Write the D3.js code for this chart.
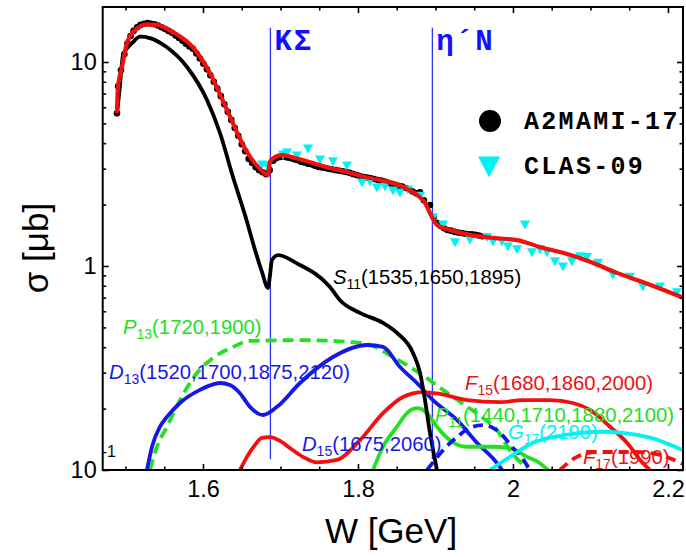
<!DOCTYPE html>
<html>
<head>
<meta charset="utf-8">
<script src="https://cdn.jsdelivr.net/npm/d3@7"></script>
<style>
body { margin: 0; background: #fff; }
text { font-family: "Liberation Sans", Arial, sans-serif; }
</style>
</head>
<body>
<svg id="chart" width="686" height="557"></svg>
<script>

// total fit (red) and S11 (black), [W GeV, sigma mub]
const totalFit = [[1.4890,5.62],[1.4903,7.54],[1.4955,9.45],[1.5019,12.4],[1.5097,14.0],[1.5277,15.3],[1.5406,15.2],
	[1.5613,14.0],[1.5871,11.8],[1.6090,8.84],[1.6310,5.82],[1.6568,3.62],[1.6710,3.06],[1.6839,2.79],[1.6865,3.24],
	[1.6929,3.42],[1.7019,3.50],[1.7187,3.38],[1.7419,3.20],[1.7639,3.02],[1.7858,2.89],[1.8090,2.73],[1.8284,2.64],
	[1.8581,2.44],[1.8761,2.23],[1.8865,2.04],[1.8929,1.82],[1.9019,1.59],[1.9187,1.50],[1.9445,1.42],[1.9768,1.37],
	[2.0052,1.34],[2.0348,1.24],[2.0645,1.16],[2.0994,1.05],[2.1342,0.925],[2.1768,0.81],[2.2194,0.70]]

const s11 = [[1.4890,5.50],[1.4929,7.71],[1.4968,10.8],[1.5097,12.5],[1.5187,13.3],[1.5316,13.1],[1.5535,11.8],
	[1.5794,9.45],[1.6052,6.51],[1.6219,4.49],[1.6387,2.73],[1.6542,1.78],[1.6671,1.20],[1.6761,0.935],[1.6839,0.78],
	[1.6865,0.904],[1.6890,1.07],[1.6968,1.13],[1.7213,1.03],[1.7639,0.789],[1.7768,0.68],[1.8026,0.589],[1.8323,0.526],
	[1.8503,0.47],[1.8710,0.375],[1.8800,0.30],[1.8865,0.22],[1.8929,0.152],[1.8994,0.112],[1.9019,0.1]]

// partial waves
const p13 = [[1.5316,0.1],[1.5406,0.130],[1.5535,0.163],[1.5703,0.220],[1.5923,0.299],[1.6129,0.354],[1.6387,0.401],
	[1.6606,0.429],[1.7252,0.433],[1.7897,0.424],[1.8116,0.415],[1.8452,0.358],[1.8671,0.320],[1.8890,0.282],
	[1.9097,0.247],[1.9355,0.211],[1.9613,0.180],[1.9794,0.157],[1.9961,0.125],[2.0181,0.102]]

const d13 = [[1.5277,0.1],[1.5342,0.130],[1.5445,0.163],[1.5535,0.182],[1.5703,0.213],[1.5961,0.247],[1.6219,0.267],
	[1.6348,0.261],[1.6477,0.238],[1.6606,0.204],[1.6774,0.186],[1.6955,0.204],[1.7252,0.267],[1.7677,0.358],
	[1.8116,0.410],[1.8323,0.401],[1.8542,0.320],[1.8761,0.267],[1.8968,0.220],[1.9277,0.176],[1.9535,0.136],
	[1.9794,0.108],[1.9858,0.1]]

const f15 = [[1.6477,0.1],[1.6568,0.116],[1.6671,0.1327],[1.6761,0.1437],[1.6865,0.145],[1.6994,0.139],[1.7123,0.128],
	[1.7290,0.116],[1.7471,0.109],[1.7729,0.112],[1.8026,0.140],[1.8323,0.190],[1.8581,0.228],[1.8839,0.241],
	[1.9058,0.236],[1.9406,0.220],[1.9832,0.215],[2.0129,0.220],[2.0477,0.220],[2.0774,0.213],[2.0994,0.197],
	[2.1252,0.163],[2.1471,0.136],[2.1677,0.108],[2.1768,0.1]]

const d15 = [[1.8890,0.1],[1.8994,0.112],[1.9097,0.125],[1.9277,0.145],[1.9445,0.161],[1.9613,0.166],[1.9742,0.161],
	[1.9871,0.147],[2.0000,0.128],[2.0090,0.1186],[2.0194,0.1035],[2.0219,0.1]]

const p11 = [[1.8194,0.1],[1.8323,0.130],[1.8503,0.163],[1.8632,0.190],[1.8761,0.201],[1.8890,0.190],[1.9019,0.163],
	[1.9187,0.140],[1.9406,0.130],[1.9703,0.130],[1.9961,0.128],[2.0181,0.116],[2.0348,0.108],[2.0452,0.1]]

const g17 = [[1.9703,0.1],[1.9961,0.116],[2.0258,0.136],[2.0697,0.149],[2.1123,0.154],[2.1419,0.152],[2.1768,0.144],
	[2.2194,0.125]]

const f17 = [[2.0606,0.1],[2.0826,0.116],[2.1084,0.1225],[2.1342,0.1225],[2.1600,0.1225],[2.1897,0.1186],[2.2194,0.107]]

// measured points
const a2mami17 = [[1.4890,5.6],[1.4905,7.6],[1.4942,9.1],[1.4985,10.9],[1.5025,12.3],[1.5065,13.4],[1.5105,14.2],
	[1.5150,14.8],[1.5195,15.2],[1.5240,15.4],[1.5285,15.5],[1.5330,15.4],[1.5375,15.3],[1.5420,15.1],[1.5465,14.8],
	[1.5510,14.5],[1.5555,14.2],[1.5600,13.9],[1.5645,13.5],[1.5690,13.1],[1.5735,12.7],[1.5780,12.3],[1.5825,11.9],
	[1.5870,11.6],[1.5915,11.0],[1.5960,10.4],[1.6005,9.8],[1.6050,9.2],[1.6095,8.6],[1.6140,8.0],[1.6185,7.4],
	[1.6230,6.8],[1.6275,6.2],[1.6320,5.7],[1.6365,5.2],[1.6410,4.75],[1.6455,4.35],[1.6500,3.95],[1.6545,3.65],
	[1.6590,3.35],[1.6635,3.2],[1.6680,3.05],[1.6725,2.95],[1.6770,2.88],[1.6815,2.82],[1.6860,2.95],[1.6905,3.28],
	[1.6950,3.38],[1.6995,3.42],[1.7040,3.44],[1.7085,3.40],[1.7130,3.38],[1.7175,3.34],[1.7220,3.30],[1.7265,3.24],
	[1.7310,3.22],[1.7355,3.17],[1.7400,3.15],[1.7445,3.10],[1.7490,3.06],[1.7535,3.04],[1.7580,3.02],[1.7625,2.99],
	[1.7670,2.97],[1.7715,2.95],[1.7760,2.93],[1.7805,2.91],[1.7850,2.89],[1.7895,2.86],[1.7940,2.82],[1.7985,2.79],
	[1.8030,2.75],[1.8075,2.73],[1.8120,2.71],[1.8165,2.69],[1.8210,2.67],[1.8255,2.64],[1.8300,2.62],[1.8345,2.59],
	[1.8390,2.56],[1.8435,2.53],[1.8480,2.50],[1.8525,2.47],[1.8570,2.45],[1.8615,2.41],[1.8660,2.37],[1.8705,2.32],
	[1.8750,2.27],[1.8800,2.30],[1.8850,2.10],[1.8930,1.99],[1.8975,1.74],[1.9020,1.63],[1.9065,1.57],[1.9110,1.53],
	[1.9155,1.50],[1.9200,1.49],[1.9245,1.47],[1.9290,1.46],[1.9335,1.45],[1.9380,1.44],[1.9425,1.43],[1.9470,1.43],
	[1.9515,1.42],[1.9560,1.41],[1.9605,1.40]]

const clas09 = [[1.6761,3.13],[1.6826,3.10],[1.7032,3.50],[1.7084,3.58],[1.7213,3.46],[1.7355,3.75],[1.7510,3.31],
	[1.7677,3.24],[1.7858,3.09],[1.8052,2.55],[1.8155,2.58],[1.8245,2.41],[1.8348,2.44],[1.8452,2.33],[1.8542,2.28],
	[1.8645,2.36],[1.8800,2.20],[1.8968,1.72],[1.9097,1.59],[1.9252,1.30],[1.9445,1.34],[1.9665,1.38],[1.9742,1.31],
	[1.9858,1.31],[1.9935,1.24],[2.0052,1.20],[2.0155,1.59],[2.0245,1.16],[2.0348,1.20],[2.0439,1.16],[2.0542,1.05],
	[2.0645,0.99],[2.0761,1.05],[2.0865,1.11],[2.0955,1.10],[2.1097,1.03],[2.1290,0.90],[2.1510,0.88],[2.1677,0.79],
	[2.1897,0.79],[2.2116,0.74]]

// thresholds
const thresholds = [{name: "KΣ", w: 1.687}, {name: "η´N", w: 1.896}]

const xMajor = [1.6, 1.8, 2.0, 2.2]
const xMinor = [1.5, 1.55, 1.65, 1.7, 1.75, 1.85, 1.9, 1.95, 2.05, 2.1, 2.15]
const yMajor = [0.1, 1, 10]
const yMinor = [0.2, 0.3, 0.4, 0.5, 0.6, 0.7, 0.8, 0.9, 2, 3, 4, 5, 6, 7, 8, 9]


const width = 686, height = 557
const margin = {top: 7, right: 3, bottom: 87, left: 102.7}
const x0 = margin.left, x1 = width - margin.right
const y0 = height - margin.bottom, y1 = margin.top

const red = "#f01010", blue = "#1818e6", green = "#22e022", cyan = "#00f2f2"

const x = d3.scaleLinear().domain([1.4706, 2.2194]).range([x0, x1])
const y = d3.scaleLog().domain([0.1, 18.6]).range([y0, y1])

const svg = d3.select("#chart")

svg.append("defs").append("clipPath").attr("id", "plot")
	.append("rect").attr("x", x0).attr("y", y1).attr("width", x1 - x0).attr("height", y0 - y1)

const line = d3.line().x(d => x(d[0])).y(d => y(d[1])).curve(d3.curveMonotoneX)

const plot = svg.append("g").attr("clip-path", "url(#plot)")

// threshold lines
plot.selectAll("line.thr").data(thresholds).enter().append("line")
	.classed("thr", true)
	.attr("x1", d => x(d.w)).attr("x2", d => x(d.w))
	.attr("y1", y(14.7)).attr("y2", y(0.113))
	.attr("stroke", "#3434ff").attr("stroke-width", 1.3)

let curves = [
	{data: p13, color: green, dash: "11,6"},
	{data: d13, color: blue},
	{data: f15, color: red},
	{data: p11, color: green},
	{data: d15, color: blue, dash: "10,6"},
	{data: g17, color: cyan},
	{data: f17, color: red, dash: "10,6"},
	{data: s11, color: "#000"}
]

plot.selectAll("path.pw").data(curves).enter().append("path")
	.classed("pw", true)
	.attr("d", d => line(d.data))
	.attr("fill", "none")
	.attr("stroke", d => d.color)
	.attr("stroke-width", 3.8)
	.attr("stroke-dasharray", d => d.dash || null)

// data points
plot.selectAll("circle.a2").data(a2mami17).enter().append("circle")
	.classed("a2", true)
	.attr("cx", d => x(d[0])).attr("cy", d => y(d[1])).attr("r", 3.3)
	.attr("fill", "#000")

function tri(cx, cy, w, h){
	return "M" + (cx - w/2) + "," + (cy - h/2) + "L" + (cx + w/2) + "," + (cy - h/2) + "L" + cx + "," + (cy + h/2) + "Z"
}

plot.selectAll("path.clas").data(clas09).enter().append("path")
	.classed("clas", true)
	.attr("d", d => tri(x(d[0]), y(d[1]), 10, 9))
	.attr("fill", cyan)

plot.append("path")
	.attr("d", line(totalFit))
	.attr("fill", "none")
	.attr("stroke", red)
	.attr("stroke-width", 4.2)

// labels of the partial waves
let labels = [
	{w: 1.7677, s: 0.817, l: "S", sub: "11", rest: "(1535,1650,1895)", color: "#000"},
	{w: 1.4968, s: 0.464, l: "P", sub: "13", rest: "(1720,1900)", color: green},
	{w: 1.4787, s: 0.279, l: "D", sub: "13", rest: "(1520,1700,1875,2120)", color: blue},
	{w: 1.7277, s: 0.124, l: "D", sub: "15", rest: "(1675,2060)", color: blue},
	{w: 1.9381, s: 0.247, l: "F", sub: "15", rest: "(1680,1860,2000)", color: red},
	{w: 1.8994, s: 0.172, l: "P", sub: "11", rest: "(1440,1710,1880,2100)", color: green},
	{w: 1.9935, s: 0.142, l: "G", sub: "17", rest: "(2190)", color: cyan},
	{w: 2.0903, s: 0.107, l: "F", sub: "17", rest: "(1990)", color: red}
]

let lab = svg.selectAll("text.pwlabel").data(labels).enter().append("text")
	.classed("pwlabel", true)
	.attr("x", d => x(d.w)).attr("y", d => y(d.s))
	.attr("fill", d => d.color)
	.style("font-size", "20.3px")
lab.append("tspan").style("font-style", "italic").text(d => d.l)
lab.append("tspan").attr("dy", 5).style("font-size", "14px").text(d => d.sub)
lab.append("tspan").attr("dy", -5).text(d => d.rest)

// threshold names
svg.selectAll("text.thr").data(thresholds).enter().append("text")
	.attr("x", d => x(d.w) + 4).attr("y", 50)
	.attr("fill", "#1010ff")
	.style("font-family", "'Liberation Mono', monospace")
	.style("font-weight", "bold")
	.style("font-size", "29px")
	.style("letter-spacing", "2px")
	.text(d => d.name)

// legend
let legend = svg.append("g")
legend.append("circle").attr("cx", 490).attr("cy", 121).attr("r", 11).attr("fill", "#000")
legend.append("path").attr("d", tri(489, 167, 22, 21)).attr("fill", cyan)
legend.selectAll("text").data(["A2MAMI-17", "CLAS-09"]).enter().append("text")
	.attr("x", 524).attr("y", (d, i) => 129 + i*45)
	.style("font-family", "'Liberation Mono', monospace")
	.style("font-weight", "bold")
	.style("font-size", "25px")
	.style("letter-spacing", "2.3px")
	.text(d => d)

// axes, ticks pointing inward
function styleAxis(g){
	g.select(".domain").remove()
	g.selectAll("line").attr("stroke", "#000").attr("stroke-width", 1.6)
	g.selectAll("text").style("font-family", "'Liberation Sans', Arial, sans-serif").style("font-size", "23.5px").attr("fill", "#000")
}

svg.append("g").attr("transform", `translate(0,${y0})`)
	.call(d3.axisBottom(x).tickValues(xMajor).tickSize(-6).tickPadding(10).tickFormat(d3.format("~g"))).call(styleAxis)
svg.append("g").attr("transform", `translate(0,${y0})`)
	.call(d3.axisBottom(x).tickValues(xMinor).tickSize(-3.5).tickFormat("")).call(styleAxis)
svg.append("g").attr("transform", `translate(0,${y1})`)
	.call(d3.axisTop(x).tickValues(xMajor).tickSize(-6).tickFormat("")).call(styleAxis)
svg.append("g").attr("transform", `translate(0,${y1})`)
	.call(d3.axisTop(x).tickValues(xMinor).tickSize(-3.5).tickFormat("")).call(styleAxis)

svg.append("g").attr("transform", `translate(${x0},0)`)
	.call(d3.axisLeft(y).tickValues(yMajor).tickSize(-6).tickPadding(6).tickFormat(d => d < 1 ? "10" : d3.format("~g")(d))).call(styleAxis)
svg.append("g").attr("transform", `translate(${x0},0)`)
	.call(d3.axisLeft(y).tickValues(yMinor).tickSize(-3.5).tickFormat("")).call(styleAxis)
svg.append("g").attr("transform", `translate(${x1},0)`)
	.call(d3.axisRight(y).tickValues(yMajor).tickSize(-6).tickFormat("")).call(styleAxis)
svg.append("g").attr("transform", `translate(${x1},0)`)
	.call(d3.axisRight(y).tickValues(yMinor).tickSize(-3.5).tickFormat("")).call(styleAxis)

// the exponent of the lowest label
svg.append("text").attr("x", x0 - 1).attr("y", y(0.1) - 13)
	.style("font-size", "16px").text("-1")

svg.append("rect")
	.attr("x", x0).attr("y", y1).attr("width", x1 - x0).attr("height", y0 - y1)
	.attr("fill", "none").attr("stroke", "#000").attr("stroke-width", 2)

// axis titles
svg.append("text").attr("x", 391).attr("y", 543)
	.attr("text-anchor", "middle")
	.style("font-size", "35px")
	.text("W [GeV]")

svg.append("text")
	.attr("transform", "translate(48,248) rotate(-90)")
	.attr("text-anchor", "middle")
	.style("font-size", "35px")
	.text("σ [μb]")

</script>
</body>
</html>
